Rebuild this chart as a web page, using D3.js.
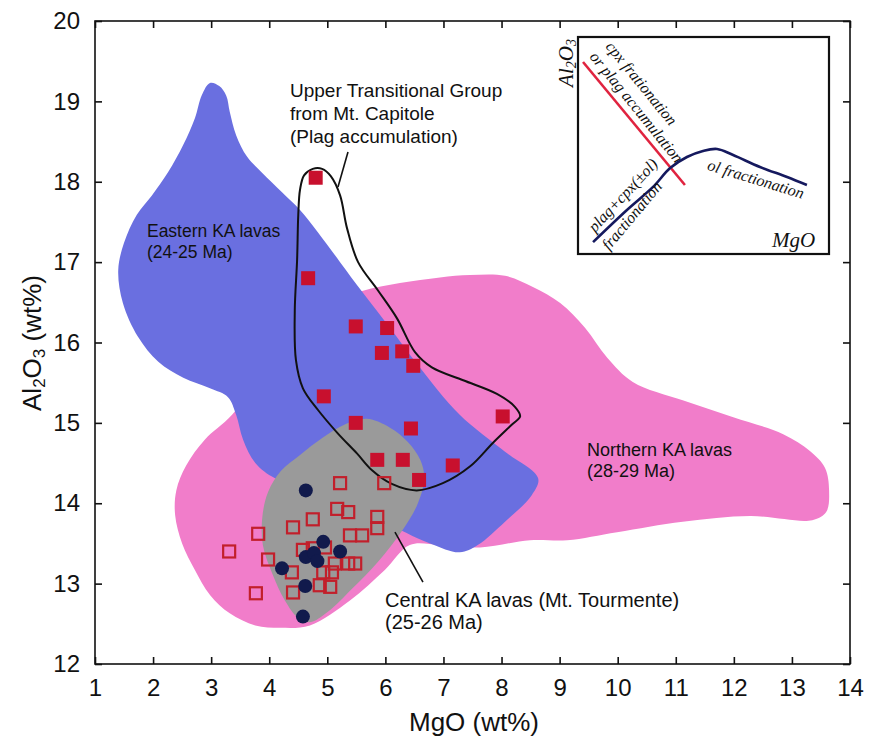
<!DOCTYPE html>
<html>
<head>
<meta charset="utf-8">
<script src="https://cdn.jsdelivr.net/npm/d3@7"></script>
<style>
  html, body { margin: 0; padding: 0; background: #fff; }
  svg { display: block; }
  text { font-family: "Liberation Sans", Arial, Helvetica, sans-serif; fill: #111; }
  .serif { font-family: "Liberation Serif", "Times New Roman", serif; font-style: italic; }
</style>
</head>
<body>
<svg id="chart" width="876" height="751"></svg>
<script>
// ---- Axis ticks ----
const xTicks = [1, 2, 3, 4, 5, 6, 7, 8, 9, 10, 11, 12, 13, 14];
const yTicks = [12, 13, 14, 15, 16, 17, 18, 19, 20];

// ---- Field outlines, [MgO, Al2O3] ----
const easternField = [
  [2.98, 19.23], [3.14, 19.19], [3.26, 19.07], [3.32, 18.87], [3.43, 18.58], [3.62, 18.31],
  [3.88, 18.11], [4.22, 17.87], [4.53, 17.65], [4.84, 17.37], [5.22, 17.00], [5.60, 16.63],
  [6.08, 16.18], [6.56, 15.72], [7.28, 15.10], [8.06, 14.64], [8.63, 14.31], [8.52, 14.10],
  [8.06, 13.77], [7.59, 13.48], [7.28, 13.39], [6.77, 13.50], [5.91, 13.79], [4.87, 14.14],
  [4.10, 14.31], [3.76, 14.50], [3.55, 14.79], [3.43, 15.10], [3.29, 15.32], [2.98, 15.43],
  [2.52, 15.56], [2.09, 15.76], [1.74, 16.07], [1.48, 16.49], [1.40, 16.90], [1.50, 17.24],
  [1.72, 17.59], [1.98, 17.83], [2.26, 18.12], [2.52, 18.46], [2.72, 18.79], [2.84, 19.08]
];
const northernField = [
  [3.36, 15.10], [4.19, 15.91], [5.05, 16.47], [5.60, 16.64], [6.25, 16.74], [6.94, 16.81],
  [7.46, 16.84], [8.06, 16.83], [8.54, 16.69], [9.01, 16.49], [9.44, 16.18], [9.82, 15.81],
  [10.26, 15.51], [11.12, 15.28], [11.99, 15.07], [12.85, 14.86], [13.31, 14.65], [13.57, 14.44],
  [13.64, 14.16], [13.59, 13.89], [13.35, 13.79], [12.28, 13.84], [11.12, 13.77], [9.99, 13.64],
  [9.13, 13.54], [8.49, 13.54], [7.63, 13.45], [6.94, 13.48], [6.42, 13.48], [5.99, 13.17],
  [5.39, 12.79], [4.70, 12.48], [4.19, 12.45], [3.76, 12.48], [3.32, 12.63], [2.98, 12.86],
  [2.72, 13.17], [2.50, 13.50], [2.38, 13.85], [2.40, 14.16], [2.57, 14.47], [2.89, 14.79]
];
const centralField = [
  [5.68, 15.05], [6.08, 14.94], [6.39, 14.76], [6.60, 14.54], [6.67, 14.31], [6.56, 14.00],
  [6.30, 13.67], [5.87, 13.27], [5.43, 12.94], [5.01, 12.65], [4.70, 12.52], [4.50, 12.57],
  [4.27, 12.79], [4.05, 13.13], [3.89, 13.48], [3.88, 13.82], [3.98, 14.14], [4.20, 14.40],
  [4.53, 14.60], [4.93, 14.82], [5.30, 14.98]
];
const upperTransitionalField = [
  [4.75, 18.16], [4.60, 18.08], [4.53, 17.90], [4.50, 17.59], [4.48, 17.03], [4.44, 16.40],
  [4.46, 15.78], [4.58, 15.43], [4.84, 15.16], [5.18, 14.87], [5.51, 14.62], [5.77, 14.41],
  [6.11, 14.24], [6.54, 14.16], [6.99, 14.25], [7.46, 14.46], [7.85, 14.75], [8.18, 14.98],
  [8.32, 15.08], [8.23, 15.20], [7.92, 15.36], [7.34, 15.53], [6.80, 15.69], [6.51, 15.88],
  [6.20, 16.30], [5.87, 16.65], [5.53, 17.00], [5.34, 17.42], [5.22, 17.83], [5.06, 18.07],
  [4.91, 18.16]
];

// ---- Samples ----
// Upper Transitional Group, Mt. Capitole (filled squares)
const utgMgO   = [4.80, 4.67, 5.49, 6.03, 5.94, 6.29, 6.48, 4.94, 5.49, 6.44, 8.02, 5.86, 6.30, 7.16, 6.58];
const utgAl2O3 = [18.05, 16.80, 16.20, 16.18, 15.87, 15.89, 15.71, 15.33, 15.00, 14.93, 15.08, 14.54, 14.54, 14.47, 14.29];
// Central KA lavas, open squares
const ctlSqMgO   = [5.22, 5.98, 3.31, 3.81, 3.98, 3.77, 4.41, 4.75, 5.17, 5.36, 5.86, 5.86, 5.39,
                    5.60, 4.58, 4.75, 4.96, 4.39, 4.41, 5.13, 5.36, 5.48, 4.93, 5.08, 4.87, 5.05];
const ctlSqAl2O3 = [14.25, 14.25, 13.40, 13.62, 13.30, 12.88, 13.70, 13.80, 13.93, 13.89, 13.83, 13.69, 13.60,
                    13.60, 13.42, 13.44, 13.45, 13.14, 12.89, 13.25, 13.25, 13.25, 13.14, 13.14, 12.98, 12.96];
// Central KA lavas, filled circles
const ctlDotMgO   = [4.63, 4.93, 5.22, 4.63, 4.77, 4.83, 4.22, 4.62, 4.58];
const ctlDotAl2O3 = [14.16, 13.52, 13.40, 13.33, 13.38, 13.28, 13.19, 12.97, 12.59];

// ---- Inset schematic (arbitrary 0-100 units) ----
const insetRedLine = [[2.0, 88.5], [42.6, 31.8]];
const insetBlueLine = [[6.0, 5.5], [19.5, 20.3], [29.9, 30.9], [36.7, 39.6], [43.4, 44.7], [49.8, 47.5],
                       [55.4, 48.4], [61.8, 45.6], [72.5, 40.1], [83.3, 35.5], [91.2, 31.8]];

// ---- Drawing ----
const svg = d3.select("#chart");
const x = d3.scaleLinear().domain([1, 14]).range([95, 850]);
const y = d3.scaleLinear().domain([12, 20]).range([664, 21]);

const area = d3.line().x(d => x(d[0])).y(d => y(d[1])).curve(d3.curveCatmullRomClosed.alpha(0.5));

svg.append("path").attr("d", area(northernField)).attr("fill", "#f17dca");
svg.append("path").attr("d", area(easternField)).attr("fill", "#6a6fe0");
svg.append("path").attr("d", area(centralField)).attr("fill", "#9a9a9a");
svg.append("path").attr("d", area(upperTransitionalField))
  .attr("fill", "none").attr("stroke", "#111").attr("stroke-width", 2);

// leader lines
svg.append("line").attr("x1", x(5.184)).attr("y1", y(17.934))
  .attr("x2", x(5.356)).attr("y2", y(18.37)).attr("stroke", "#111").attr("stroke-width", 1.6);
svg.append("line").attr("x1", x(6.165)).attr("y1", y(13.64))
  .attr("x2", x(6.647)).attr("y2", y(13.018)).attr("stroke", "#111").attr("stroke-width", 1.6);

// open squares
const sq = 12;
svg.append("g").selectAll("rect").data(d3.range(ctlSqMgO.length)).join("rect")
  .attr("x", i => x(ctlSqMgO[i]) - sq / 2).attr("y", i => y(ctlSqAl2O3[i]) - sq / 2)
  .attr("width", sq).attr("height", sq)
  .attr("fill", "none").attr("stroke", "#c21f2b").attr("stroke-width", 2.2);

// filled circles
svg.append("g").selectAll("circle").data(d3.range(ctlDotMgO.length)).join("circle")
  .attr("cx", i => x(ctlDotMgO[i])).attr("cy", i => y(ctlDotAl2O3[i])).attr("r", 7)
  .attr("fill", "#111a4c");

// filled squares
const fs = 14;
svg.append("g").selectAll("rect").data(d3.range(utgMgO.length)).join("rect")
  .attr("x", i => x(utgMgO[i]) - fs / 2).attr("y", i => y(utgAl2O3[i]) - fs / 2)
  .attr("width", fs).attr("height", fs).attr("fill", "#c8102e");

// frame and axes
svg.append("rect").attr("x", x(1)).attr("y", y(20)).attr("width", x(14) - x(1)).attr("height", y(12) - y(20))
  .attr("fill", "none").attr("stroke", "#111").attr("stroke-width", 1.6);

const styleAxis = g => {
  g.select(".domain").remove();
  g.selectAll(".tick line").attr("stroke", "#111").attr("stroke-width", 1.6);
  g.selectAll(".tick text").attr("fill", "#111").style("font-size", "24px")
    .style("font-family", '"Liberation Sans", Arial, sans-serif');
};
svg.append("g").attr("transform", `translate(0,${y(12)})`)
  .call(d3.axisBottom(x).tickValues(xTicks).tickSize(-7).tickPadding(15).tickFormat(d3.format("d")))
  .call(styleAxis);
svg.append("g").attr("transform", `translate(${x(1)},0)`)
  .call(d3.axisLeft(y).tickValues(yTicks).tickSize(-7).tickPadding(15).tickFormat(d3.format("d")))
  .call(styleAxis);
svg.append("g").attr("transform", `translate(0,${y(20)})`)
  .call(d3.axisTop(x).tickValues(xTicks).tickSize(-7).tickFormat(""))
  .call(styleAxis);
svg.append("g").attr("transform", `translate(${x(14)},0)`)
  .call(d3.axisRight(y).tickValues(yTicks).tickSize(-7).tickFormat(""))
  .call(styleAxis);

// axis titles
svg.append("text").attr("x", 474).attr("y", 731).attr("text-anchor", "middle")
  .style("font-size", "26px").text("MgO (wt%)");
const yt = svg.append("text").attr("transform", "translate(41,343) rotate(-90)")
  .attr("text-anchor", "middle").style("font-size", "26px");
yt.append("tspan").text("Al");
yt.append("tspan").attr("dy", 4).style("font-size", "17px").text("2");
yt.append("tspan").attr("dy", -4).text("O");
yt.append("tspan").attr("dy", 4).style("font-size", "17px").text("3");
yt.append("tspan").attr("dy", -4).text(" (wt%)");

// field labels
const label = (mx, lines, base, step, size) => {
  const t = svg.append("text").style("font-size", size + "px");
  lines.forEach((s, i) => t.append("tspan").attr("x", x(mx)).attr("y", y(base) + i * step).text(s));
};
label(4.357, ["Upper Transitional Group", "from Mt. Capitole", "(Plag accumulation)"], 19.054, 23, 19);
label(1.895, ["Eastern KA lavas", "(24-25 Ma)"], 17.312, 21, 17.5);
label(9.471, ["Northern KA lavas", "(28-29 Ma)"], 14.586, 21, 18);
label(5.993, ["Central KA lavas (Mt. Tourmente)", "(25-26 Ma)"], 12.71, 22, 20);

// ---- Inset ----
const ix = d3.scaleLinear().domain([0, 100]).range([578, 829]);
const iy = d3.scaleLinear().domain([0, 100]).range([254, 37]);
const inset = svg.append("g");
inset.append("rect").attr("x", ix(0)).attr("y", iy(100)).attr("width", ix(100) - ix(0)).attr("height", iy(0) - iy(100))
  .attr("fill", "#fff").attr("stroke", "#111").attr("stroke-width", 2.2);
const iline = d3.line().x(d => ix(d[0])).y(d => iy(d[1]));
inset.append("path").attr("d", iline(insetRedLine)).attr("fill", "none")
  .attr("stroke", "#e0233f").attr("stroke-width", 2.6);
inset.append("path").attr("d", iline.curve(d3.curveCatmullRom.alpha(0.5))(insetBlueLine)).attr("fill", "none")
  .attr("stroke", "#15195e").attr("stroke-width", 2.6);

const itext = (u, v, ang, s, size) => inset.append("text").attr("class", "serif")
  .attr("transform", `translate(${ix(u)},${iy(v)}) rotate(${ang})`)
  .style("font-size", size + "px").text(s);
itext(10.8, 95.5, 51, "cpx frationation", 16);
itext(4.4, 90.8, 51, "or plag accumulation", 16);
itext(6.8, 9.7, -47, "plag+cpx(\u00b1ol)", 16);
itext(12.4, 1.4, -50, "fractionation", 16);
itext(51.2, 38.9, 17, "ol fractionation", 16);
itext(77.3, 3.2, 0, "MgO", 21);

const ia = svg.append("text").attr("class", "serif")
  .attr("transform", "translate(573,63) rotate(-90)").attr("text-anchor", "middle").style("font-size", "21px");
ia.append("tspan").text("Al");
ia.append("tspan").attr("dy", 3).style("font-size", "14px").text("2");
ia.append("tspan").attr("dy", -3).text("O");
ia.append("tspan").attr("dy", 3).style("font-size", "14px").text("3");
</script>
</body>
</html>
